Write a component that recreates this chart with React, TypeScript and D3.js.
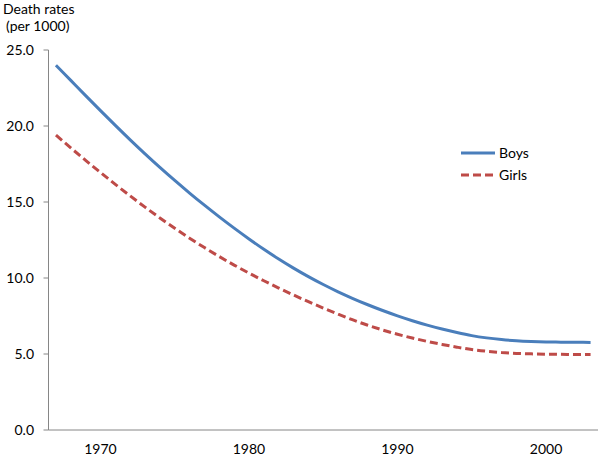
import * as d3 from 'd3'

const years = d3.range(1967, 2004)
const boys = [
  24.0, 23.0, 22.0, 21.01, 20.04, 19.09, 18.17, 17.28, 16.42, 15.59,
  14.79, 14.02, 13.28, 12.57, 11.89, 11.25, 10.65, 10.09, 9.57, 9.09,
  8.65, 8.24, 7.86, 7.51, 7.19, 6.9, 6.64, 6.41, 6.21, 6.06,
  5.95, 5.87, 5.82, 5.79, 5.78, 5.77, 5.76,
]
const girls = [
  19.4, 18.56, 17.74, 16.94, 16.16, 15.4, 14.66, 13.95, 13.27, 12.62,
  12.0, 11.41, 10.85, 10.32, 9.82, 9.34, 8.88, 8.44, 8.02, 7.62,
  7.24, 6.89, 6.58, 6.3, 6.05, 5.83, 5.63, 5.45, 5.29, 5.18,
  5.1, 5.04, 5.01, 4.99, 4.98, 4.97, 4.97,
]
const yTicks = [0, 5, 10, 15, 20, 25]
const xLabels = [1970, 1980, 1990, 2000]
const series = [
  { name: 'Boys', values: boys, color: '#4A7EBB', dash: undefined },
  { name: 'Girls', values: girls, color: '#BE4B48', dash: '8,4' },
]

const font = 'Lato, "Open Sans", sans-serif'

export default function App() {
  const left = 48.5
  const right = 598
  const top = 50
  const bottom = 430

  const x = d3.scalePoint<number>().domain(years).range([left, right]).padding(0.5)
  const y = d3.scaleLinear().domain([0, 25]).range([bottom, top])

  const line = d3
    .line<number>()
    .x((_, i) => x(years[i]) as number)
    .y(d => y(d))
    .curve(d3.curveMonotoneX)

  return (
    <svg
      width={600}
      height={456}
      style={{ position: 'absolute', left: 0, top: 0, background: '#fff' }}
      fontFamily={font}
    >
      <text x={3} y={14} fontSize={14} fill="#000">Death rates</text>
      <text x={6} y={31} fontSize={14} fill="#000">(per 1000)</text>

      {/* y axis */}
      <path d={`M ${left} ${top} V ${bottom}`} stroke="#868686" />
      {yTicks.map(t => (
        <g key={t}>
          <path d={`M ${left - 5} ${y(t)} H ${left}`} stroke="#868686" />
          <text x={34} y={y(t) + 5} fontSize={14} textAnchor="end" fill="#000">
            {t.toFixed(1)}
          </text>
        </g>
      ))}

      {/* x axis */}
      <path d={`M ${left} ${bottom} H ${right}`} stroke="#868686" />
      {xLabels.map(v => (
        <text key={v} x={x(v)} y={454} fontSize={14} textAnchor="middle" fill="#000">
          {v}
        </text>
      ))}

      {series.map(s => (
        <path
          key={s.name}
          d={line(s.values) ?? ''}
          fill="none"
          stroke={s.color}
          strokeWidth={3}
          strokeDasharray={s.dash}
        />
      ))}

      {series.map((s, i) => (
        <g key={s.name} transform={`translate(461,${153 + i * 22})`}>
          <path d="M 0 0 H 34" stroke={s.color} strokeWidth={3} strokeDasharray={s.dash} />
          <text x={38} y={5} fontSize={14} fill="#000">{s.name}</text>
        </g>
      ))}
    </svg>
  )
}
